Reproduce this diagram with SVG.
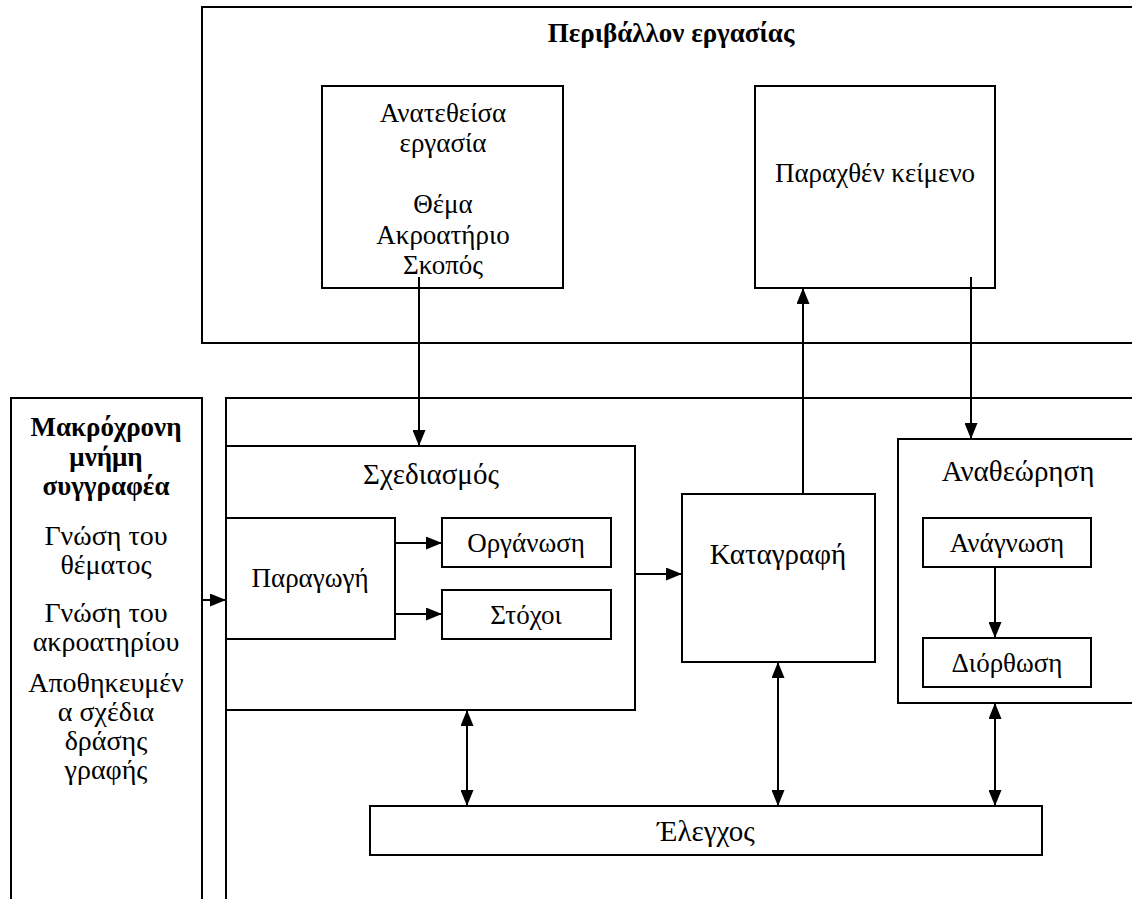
<svg xmlns="http://www.w3.org/2000/svg" width="1132" height="899" viewBox="0 0 1132 899">
<style>
  .box { fill: none; stroke: #000; stroke-width: 2; }
  .t { font-family: "Liberation Serif", "DejaVu Serif", "Times New Roman", serif; font-size: 27px; fill: #000; text-anchor: middle; }
  .lg { font-size: 29px; }
  .m { font-size: 28px; }
  .b { font-weight: bold; font-size: 27px; }
  .c { fill: none; stroke: #000; stroke-width: 2; }
</style>
<defs>
  <marker id="ah" viewBox="0 0 16 13" refX="16" refY="6.5" markerWidth="16" markerHeight="13" markerUnits="userSpaceOnUse" orient="auto-start-reverse">
    <path d="M0,0 L16,6.5 L0,13 z" fill="#000"/>
  </marker>
</defs>
<rect width="1132" height="899" fill="#fff"/>

<g id="environment">
  <rect class="box" x="202" y="7" width="960" height="336"/>
  <text class="t b" x="671" y="42">Περιβάλλον εργασίας</text>
</g>
<g id="assigned-task">
  <rect class="box" x="322" y="86" width="241" height="202"/>
  <text class="t" x="443" y="122">Ανατεθείσα</text>
  <text class="t" x="443" y="152">εργασία</text>
  <text class="t" x="443" y="213">Θέμα</text>
  <text class="t" x="443" y="244">Ακροατήριο</text>
  <text class="t" x="443" y="274">Σκοπός</text>
</g>
<g id="produced-text">
  <rect class="box" x="755" y="86" width="240" height="202"/>
  <text class="t" x="875" y="182">Παραχθέν κείμενο</text>
</g>
<g id="long-term-memory">
  <rect class="box" x="11" y="398" width="191" height="540"/>
  <text class="t b" x="106" y="436">Μακρόχρονη</text>
  <text class="t b" x="106" y="466">μνήμη</text>
  <text class="t b" x="106" y="495">συγγραφέα</text>
  <text class="t m" x="106" y="545">Γνώση του</text>
  <text class="t m" x="106" y="574">θέματος</text>
  <text class="t m" x="106" y="622">Γνώση του</text>
  <text class="t m" x="106" y="651">ακροατηρίου</text>
  <text class="t m" x="106" y="692">Αποθηκευμέν</text>
  <text class="t m" x="106" y="721">α σχέδια</text>
  <text class="t m" x="106" y="750">δράσης</text>
  <text class="t m" x="106" y="779">γραφής</text>
</g>
<g id="writing-process">
  <rect class="box" x="226" y="398" width="960" height="540"/>
</g>
<g id="planning">
  <rect class="box" x="226" y="446" width="409" height="264"/>
  <text class="t lg" x="431" y="484">Σχεδιασμός</text>
</g>
<g id="generating">
  <rect class="box" x="226" y="518" width="169" height="121"/>
  <text class="t" x="310" y="587">Παραγωγή</text>
</g>
<g id="organizing">
  <rect class="box" x="442" y="518" width="169" height="49"/>
  <text class="t" x="526" y="552">Οργάνωση</text>
</g>
<g id="goals">
  <rect class="box" x="442" y="590" width="169" height="49"/>
  <text class="t" x="526" y="624">Στόχοι</text>
</g>
<g id="translating">
  <rect class="box" x="682" y="494" width="193" height="168"/>
  <text class="t lg" x="778" y="564">Καταγραφή</text>
</g>
<g id="reviewing">
  <rect class="box" x="898" y="439" width="260" height="264"/>
  <text class="t lg" x="1018" y="481">Αναθεώρηση</text>
</g>
<g id="reading">
  <rect class="box" x="923" y="518" width="168" height="49"/>
  <text class="t" x="1007" y="552">Ανάγνωση</text>
</g>
<g id="editing">
  <rect class="box" x="923" y="638" width="168" height="49"/>
  <text class="t" x="1007" y="672">Διόρθωση</text>
</g>
<g id="monitor">
  <rect class="box" x="370" y="806" width="672" height="49"/>
  <text class="t lg" x="706" y="841">Έλεγχος</text>
</g>

<g id="connectors">
  <line class="c" x1="419" y1="277" x2="419" y2="446" marker-end="url(#ah)"/>
  <line class="c" x1="803" y1="494" x2="803" y2="288" marker-end="url(#ah)"/>
  <line class="c" x1="971" y1="277" x2="971" y2="439" marker-end="url(#ah)"/>
  <line class="c" x1="202" y1="600" x2="226" y2="600" marker-end="url(#ah)"/>
  <line class="c" x1="395" y1="543" x2="442" y2="543" marker-end="url(#ah)"/>
  <line class="c" x1="395" y1="614" x2="442" y2="614" marker-end="url(#ah)"/>
  <line class="c" x1="635" y1="574" x2="682" y2="574" marker-end="url(#ah)"/>
  <line class="c" x1="995" y1="567" x2="995" y2="638" marker-end="url(#ah)"/>
  <line class="c" x1="467" y1="710" x2="467" y2="806" marker-start="url(#ah)" marker-end="url(#ah)"/>
  <line class="c" x1="778" y1="662" x2="778" y2="806" marker-start="url(#ah)" marker-end="url(#ah)"/>
  <line class="c" x1="995" y1="703" x2="995" y2="806" marker-start="url(#ah)" marker-end="url(#ah)"/>
</g>
</svg>
